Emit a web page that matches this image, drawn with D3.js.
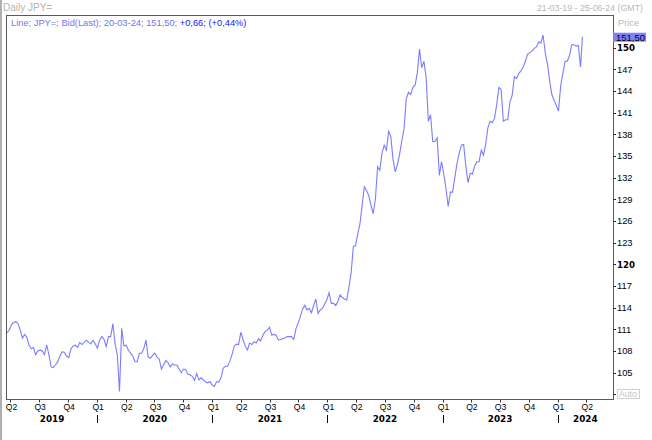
<!DOCTYPE html>
<html><head><meta charset="utf-8">
<script src="https://cdn.jsdelivr.net/npm/d3@7/dist/d3.min.js"></script>
<style>html,body{margin:0;padding:0;background:#fff;overflow:hidden}</style>
</head><body><svg id="c" width="652" height="440"></svg>
<script>
// ---------- data ----------
const titleText = "Daily JPY=";
const periodText = "21-03-19 - 25-06-24 (GMT)";
const domainStart = "2019-03-21";
const domainEnd = "2024-06-25";
const seriesStart = "2019-03-21";   // first weekly sample
const stepDays = 7;                  // weekly samples
const weeklyClose = [
 110.5,110.9,111.6,111.95,112.07,111.8,110.9,109.8,110.3,109.9,
 108.8,108.3,108.47,107.5,108.0,108.15,108.0,107.5,108.84,107.5,
 105.8,105.7,106.1,106.5,107.3,107.9,107.8,107.3,107.1,108.3,
 108.7,108.8,108.5,109.2,108.9,109.2,109.5,109.2,109.0,109.5,
 109.0,108.4,109.5,110.0,109.6,108.6,110.0,110.0,111.8,109.0,
 107.46,102.4,111.15,108.7,108.8,108.15,107.7,107.3,106.54,106.5,
 107.7,107.7,108.3,109.5,107.2,107.0,107.4,107.7,107.2,106.9,
 105.5,106.1,106.7,106.4,105.8,106.2,106.07,106.07,105.5,105.0,
 105.5,105.4,104.8,104.7,104.5,103.9,104.9,104.0,104.3,104.0,
 103.7,103.6,103.77,103.3,103.1,103.77,103.7,104.3,105.6,105.9,
 105.9,106.6,107.5,108.7,108.95,108.9,110.6,109.6,108.7,108.15,
 109.1,108.9,109.3,109.1,109.7,109.4,110.2,110.68,110.9,111.3,
 110.2,110.3,110.2,109.5,109.6,109.7,109.8,110.0,110.0,110.0,
 109.6,111.1,111.9,112.8,113.8,114.35,113.7,113.9,113.3,114.3,
 115.2,113.2,113.68,113.9,114.5,115.1,116.08,114.6,114.6,114.3,
 114.9,115.76,115.4,115.2,115.07,116.8,118.8,122.45,122.6,124.2,
 125.6,128.2,130.75,130.2,129.5,128.2,127.0,129.0,133.5,133.0,
 135.4,136.5,135.8,138.4,137.67,134.5,132.8,133.8,135.3,137.1,
 138.8,142.9,143.8,143.5,144.5,144.8,146.5,149.8,147.2,148.1,
 145.9,139.8,140.7,137.0,137.0,137.5,132.3,134.21,132.5,130.5,
 128.0,130.0,130.0,132.0,133.98,135.4,136.5,136.6,133.6,131.3,
 132.6,132.5,133.6,134.2,134.2,135.8,135.1,136.6,138.9,139.8,
 139.6,140.2,142.1,144.5,144.2,139.8,140.0,140.0,142.5,143.4,
 145.98,145.7,146.4,146.8,147.3,148.1,149.1,149.3,149.5,149.9,
 150.1,150.8,150.6,151.74,149.3,147.7,145.4,143.5,142.7,142.0,
 141.2,144.7,146.5,148.1,148.1,148.9,150.4,150.4,150.2,150.3,
 147.3
];
const lastDate = "2024-03-20";
const lastClose = 151.50;
const lastChange = 0.66;
const lastChangePct = 0.44;
const yDomain = [101.36, 154.37];
const yTickValues = [102,105,108,111,114,117,120,123,126,129,132,135,138,141,144,147,150];

// ---------- layout ----------
const svg = d3.select("#c");
const P = {left: 7, right: 613, top: 16, bottom: 399};
const parse = d3.utcParse("%Y-%m-%d");
const x = d3.scaleUtc().domain([parse(domainStart), parse(domainEnd)]).range([P.left, P.right]);
const y = d3.scaleLinear().domain(yDomain).range([P.bottom, P.top]);
const fmt = v => d3.format(".2f")(v).replace(".", ",");
const REG = "'Liberation Sans', Arial, sans-serif";
const BOLD = "'DejaVu Sans', sans-serif";

// data points
const s0 = parse(seriesStart);
const pts = weeklyClose.map((v, i) => ({d: d3.utcDay.offset(s0, i * stepDays), v}));
pts.push({d: parse(lastDate), v: lastClose});

// left gray strip
svg.append("rect").attr("x", 0).attr("y", 0).attr("width", 2).attr("height", 440).attr("fill", "#b0b0b0");

// header
svg.append("text").attr("x", 3).attr("y", 11).attr("font-family", REG).attr("font-size", 10)
  .attr("fill", "#b4b4b4").text(titleText);
svg.append("text").attr("x", 643).attr("y", 11).attr("text-anchor", "end").attr("font-family", REG)
  .attr("font-size", 8.8).attr("fill", "#b8b8b8").text(periodText);

// line
const line = d3.line().x(p => x(p.d)).y(p => y(p.v));
svg.append("path").datum(pts).attr("d", line).attr("fill", "none")
  .attr("stroke", "#7c7cff").attr("stroke-width", 1.1);

// frame
svg.append("rect").attr("x", 6.5).attr("y", 15.5).attr("width", 607).attr("height", 384)
  .attr("fill", "none").attr("stroke", "#5a5a5a").attr("stroke-width", 1);

// legend
const leg = svg.append("text").attr("x", 11).attr("y", 26).attr("font-family", REG).attr("font-size", 9.3);
leg.append("tspan").attr("fill", "#7474ee")
  .text(`Line; JPY=; Bid(Last); ${d3.utcFormat("%d-%m-%y")(parse(lastDate))}; ${fmt(lastClose)}; `);
leg.append("tspan").attr("fill", "#1414ff")
  .text(`+${fmt(lastChange)}; (+${fmt(lastChangePct)}%)`);

// right axis
const yt = svg.append("g");
yTickValues.forEach(v => {
  const yy = Math.round(y(v)) + 0.5;
  yt.append("line").attr("x1", 613.5).attr("x2", 616).attr("y1", yy).attr("y2", yy).attr("stroke", "#222");
  if (v !== yTickValues[0]) {
    const bold = v % 30 === 0;
    yt.append("text").attr("x", 617).attr("y", y(v) + 3.4)
      .attr("font-family", bold ? BOLD : REG).attr("font-weight", bold ? "bold" : "normal")
      .attr("font-size", bold ? 8.6 : 9.3).attr("fill", "#000").text(v);
  }
});
// auto box on lowest tick
svg.append("rect").attr("x", 617.5).attr("y", 389.5).attr("width", 22).attr("height", 9)
  .attr("fill", "#fff").attr("stroke", "#cfcfcf");
svg.append("text").attr("x", 619).attr("y", 397.3).attr("font-family", REG).attr("font-size", 8.6)
  .attr("fill", "#c4c4c4").text("Auto");

// Price label
svg.append("text").attr("x", 618).attr("y", 26).attr("font-family", REG).attr("font-size", 9.3)
  .attr("fill", "#b8b8b8").text("Price");
// last value badge
const by = y(lastClose);
svg.append("rect").attr("x", 613).attr("y", by - 4).attr("width", 33).attr("height", 9).attr("fill", "#8080ff");
svg.append("text").attr("x", 616).attr("y", by + 3.8).attr("font-family", REG).attr("font-size", 9.5)
  .attr("fill", "#000").text(fmt(lastClose));

// bottom axis: quarters
const qs = d3.utcMonth.every(3).range(x.domain()[0], x.domain()[1]);
const xa = svg.append("g");
qs.forEach(d => {
  const xx = Math.round(x(d)) + 0.5;
  xa.append("line").attr("x1", xx).attr("x2", xx).attr("y1", 400).attr("y2", 402.5).attr("stroke", "#333");
  xa.append("text").attr("x", x(d) + 1).attr("y", 409.5).attr("text-anchor", "middle")
    .attr("font-family", REG).attr("font-size", 8.6).attr("fill", "#000")
    .text("Q" + (Math.floor(d.getUTCMonth() / 3) + 1));
});
// years
const ys = d3.utcYear.range(d3.utcYear.floor(x.domain()[0]), x.domain()[1]);
ys.forEach(d => {
  const a = d < x.domain()[0] ? x.domain()[0] : d;
  const nx = d3.utcYear.offset(d, 1);
  const b = nx > x.domain()[1] ? x.domain()[1] : nx;
  if (d >= x.domain()[0]) {
    const xx = Math.round(x(d)) + 0.5;
    xa.append("line").attr("x1", xx).attr("x2", xx).attr("y1", 415).attr("y2", 423).attr("stroke", "#000");
  }
  xa.append("text").attr("x", (x(a) + x(b)) / 2).attr("y", 421.7).attr("text-anchor", "middle")
    .attr("font-family", BOLD).attr("font-weight", "bold").attr("font-size", 8.8).attr("fill", "#000")
    .text(d.getUTCFullYear());
});
</script></body></html>
